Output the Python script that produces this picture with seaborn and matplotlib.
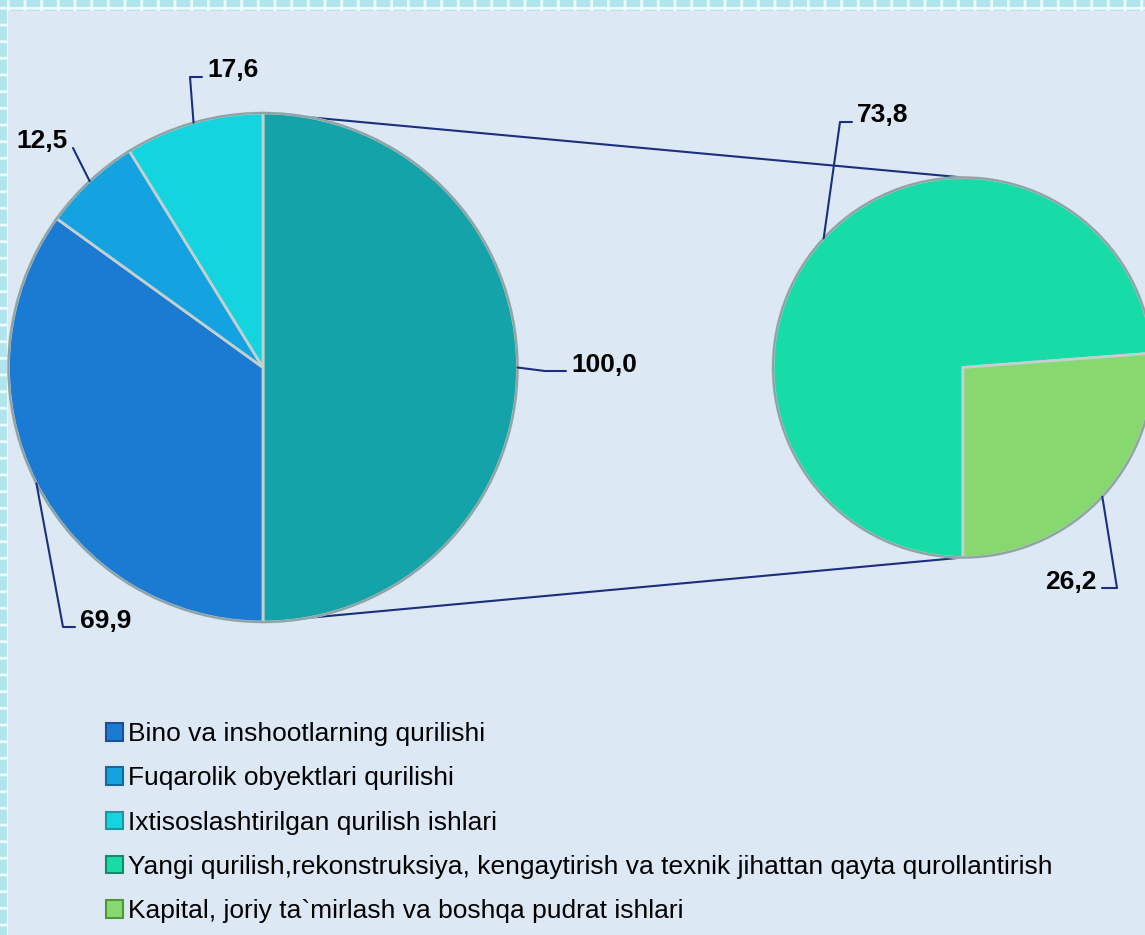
import matplotlib
matplotlib.use("Agg")
import matplotlib.pyplot as plt
import seaborn as sns
from matplotlib.patches import Patch, Rectangle, Circle
import numpy as np

# =========================================================
# DATA
# =========================================================
main_labels = [
    "Bino va inshootlarning qurilishi",
    "Fuqarolik obyektlari qurilishi",
    "Ixtisoslashtirilgan qurilish ishlari",
]
main_values = [69.9, 12.5, 17.6]

sub_labels = [
    "Yangi qurilish,rekonstruksiya, kengaytirish va texnik jihattan qayta qurollantirish",
    "Kapital, joriy ta`mirlash va boshqa pudrat ishlari",
]
sub_values = [73.8, 26.2]

other_value = sum(sub_values)

main_colors = ["#1b7bd2", "#14a2e0", "#14d4e0"]
other_color = "#13a3a8"
sub_colors = ["#18dca8", "#88d870"]
legend_edges = ["#1d4f95", "#17699a", "#17979f", "#168a66", "#4f9838"]

# =========================================================
# LAYOUT (pixel units, y measured from top)
# =========================================================
W, H = 1145, 935
LEFT_C, LEFT_R = (263, 367.5), 254.5
RIGHT_C, RIGHT_R = (963, 367.5), 190

# leader line elbows / ends and label baselines
main_label_layout = [
    # (elbow, end, text xy, ha)
    ((63, 627), (75, 627), (80, 628), "left"),    # 69,9
    ((73, 148), (73, 148), (68, 148), "right"),   # 12,5
    ((190, 77), (202, 77), (207, 77), "left"),    # 17,6
]
other_label_layout = ((545, 371), (566, 371), (571, 372), "left")
sub_label_layout = [
    ((840, 122), (852, 122), (857, 122), "left"),      # 73,8
    ((1117, 588), (1102, 588), (1096, 589), "right"),  # 26,2
]


def fy(y):
    return H - y


def fmt(v):
    return f"{v:.1f}".replace(".", ",")


sns.set_theme(style="white")
plt.rcParams["font.family"] = ["Liberation Sans", "DejaVu Sans"]
plt.rcParams["hatch.linewidth"] = 2.0

fig = plt.figure(figsize=(W / 100, H / 100), dpi=100)
fig.patch.set_facecolor("#b6e7ef")
ax = fig.add_axes([0, 0, 1, 1])

# patterned border + inner panel
ax.add_patch(Rectangle((0, 0), W, H, facecolor="#b0e5ee", edgecolor="#eefafc",
                       hatch="+", linewidth=0, zorder=0))
ax.add_patch(Rectangle((8, 0), W, H - 11, facecolor="#dde8f5",
                       edgecolor="none", zorder=0.5))

# =========================================================
# PIES
# =========================================================
line_col = "#1c2f7e"
wp = dict(edgecolor="#c4d0d0", linewidth=2)

left_wedges, _ = ax.pie(
    [other_value] + main_values,
    colors=[other_color] + main_colors,
    startangle=90, counterclock=False,
    radius=LEFT_R, center=(LEFT_C[0], fy(LEFT_C[1])),
    wedgeprops=wp, frame=True,
)
right_wedges, _ = ax.pie(
    sub_values,
    colors=sub_colors,
    startangle=-90, counterclock=False,
    radius=RIGHT_R, center=(RIGHT_C[0], fy(RIGHT_C[1])),
    wedgeprops=wp, frame=True,
)
for w in left_wedges + right_wedges:
    w.set_zorder(2)

# soft rim around each pie
for c, r in [(LEFT_C, LEFT_R), (RIGHT_C, RIGHT_R)]:
    ax.add_patch(Circle((c[0], fy(c[1])), r, facecolor="none",
                        edgecolor="#8fa3a6", linewidth=1.6, zorder=2.5))

# connector lines between pies
ax.plot([LEFT_C[0], RIGHT_C[0]], [fy(LEFT_C[1] - LEFT_R), fy(RIGHT_C[1] - RIGHT_R)],
        color=line_col, lw=1.5, zorder=1)
ax.plot([LEFT_C[0], RIGHT_C[0]], [fy(LEFT_C[1] + LEFT_R), fy(RIGHT_C[1] + RIGHT_R)],
        color=line_col, lw=1.5, zorder=1)


# =========================================================
# DATA LABELS WITH LEADER LINES
# =========================================================
def label_wedge(wedge, value, layout):
    elbow, end, txt, ha = layout
    mid = np.deg2rad((wedge.theta1 + wedge.theta2) / 2)
    cx, cy = wedge.center
    ax0 = cx + wedge.r * np.cos(mid)
    ay0 = cy + wedge.r * np.sin(mid)
    ax.plot([ax0, elbow[0], end[0]], [ay0, fy(elbow[1]), fy(end[1])],
            color=line_col, lw=1.5, zorder=3)
    ax.text(txt[0], fy(txt[1]), fmt(value), ha=ha, va="baseline",
            fontsize=19, fontweight="bold", color="black", zorder=4)


label_wedge(left_wedges[0], other_value, other_label_layout)
for w, v, lay in zip(left_wedges[1:], main_values, main_label_layout):
    label_wedge(w, v, lay)
for w, v, lay in zip(right_wedges, sub_values, sub_label_layout):
    label_wedge(w, v, lay)

# =========================================================
# LEGEND
# =========================================================
handles = [
    Patch(facecolor=c, edgecolor=e, linewidth=1.5)
    for c, e in zip(main_colors + sub_colors, legend_edges)
]
leg = ax.legend(
    handles, main_labels + sub_labels,
    loc="upper left", bbox_to_anchor=(106, fy(722)),
    bbox_transform=ax.transData, frameon=False,
    borderpad=0, borderaxespad=0,
    handlelength=0.65, handleheight=0.65, handletextpad=0.2,
    labelspacing=0.77, fontsize=19,
)
for t in leg.get_texts():
    t.set_color("black")

ax.set_xlim(0, W)
ax.set_ylim(0, H)
ax.set_aspect("equal")
ax.axis("off")

fig.savefig("out.png", dpi=100, facecolor=fig.get_facecolor())
